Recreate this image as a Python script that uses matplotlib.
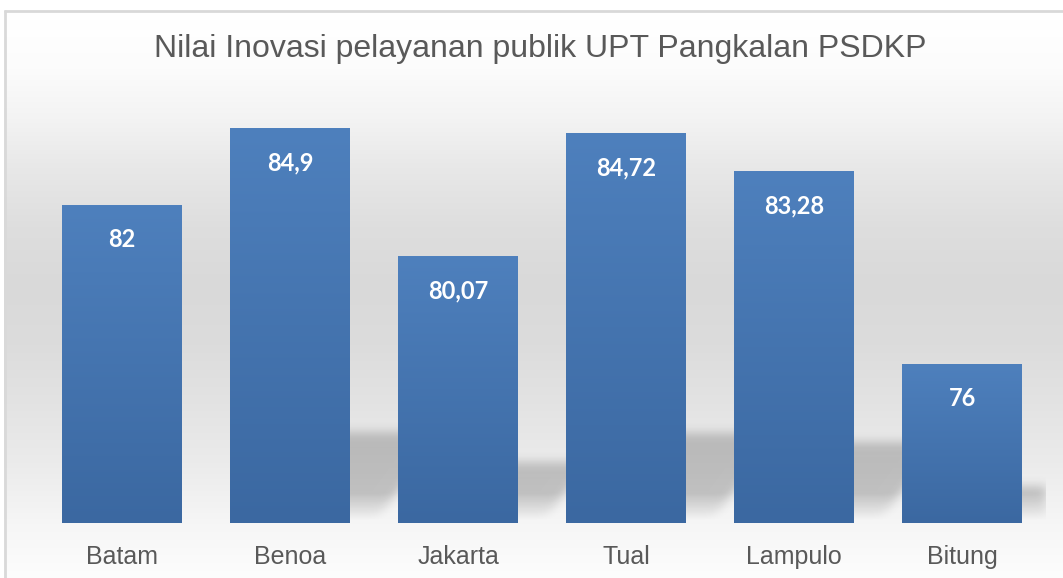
import numpy as np
import matplotlib
matplotlib.use("Agg")
import matplotlib.pyplot as plt
from matplotlib.colors import to_rgb

# ---- data ----
categories = ["Batam", "Benoa", "Jakarta", "Tual", "Lampulo", "Bitung"]
values = [82, 84.9, 80.07, 84.72, 83.28, 76]
value_labels = ["82", "84,9", "80,07", "84,72", "83,28", "76"]
title = "Nilai Inovasi pelayanan publik UPT Pangkalan PSDKP"
shadow_on = [False, True, True, True, True, True]

# ---- style ----
W, H, DPI = 1063, 578, 100
ymin, ymax = 70, 86
bar_w = 0.714
text_gray = "#595959"
bar_top = np.array(to_rgb("#4e80bd"))
bar_bot = np.array(to_rgb("#3b68a1"))

fig = plt.figure(figsize=(W / DPI, H / DPI), dpi=DPI)

# background (chart area gradient + border)
bg = fig.add_axes([0, 0, 1, 1], zorder=-10)
bg.set_xlim(0, W)
bg.set_ylim(H, 0)
bg.axis("off")
stops_y = [10, 60, 110, 160, 220, 280, 340, 400, 460, 523, 578]
stops_v = [255, 252, 243, 232, 222, 217, 220, 227, 235, 246, 253]
yy = np.arange(H)
g = np.interp(yy, stops_y, stops_v) / 255.0
grad = np.repeat(g[:, None], 3, axis=1)[:, None, :]
bg.imshow(grad, extent=[4, W, H, 10], aspect="auto", interpolation="bilinear", zorder=0)
bg.plot([4, W], [10.5, 10.5], color="#d9d9d9", lw=2, zorder=1, solid_capstyle="butt")
bg.plot([4.5, 4.5], [10, H], color="#d9d9d9", lw=2, zorder=1, solid_capstyle="butt")
bg.text(540, 49, title, ha="center", va="center", fontsize=23,
        color=text_gray, family="Liberation Sans")

# main axes
left_px, right_px, top_px, bot_px = 38, 1046, 99, 523
ax = fig.add_axes([left_px / W, (H - bot_px) / H, (right_px - left_px) / W, (bot_px - top_px) / H])
ax.patch.set_visible(False)
x = np.arange(len(categories))
ax.set_xlim(-0.5, len(categories) - 0.5)
ax.set_ylim(ymin, ymax)

ppx = (right_px - left_px) / len(categories)   # px per x unit
ppy = (bot_px - top_px) / (ymax - ymin)        # px per y unit

# shadows (computed in pixel grid, blurred)
nx, ny = right_px - left_px, bot_px - top_px
px_x = np.arange(nx) + 0.5
px_y = np.arange(ny) + 0.5  # from bottom
PX, PY = np.meshgrid(px_x, px_y)
mask = np.zeros((ny, nx))
for i, v in enumerate(values):
    if not shadow_on[i]:
        continue
    h_px = (v - ymin) * ppy
    hs = 0.23 * h_px
    xr = (x[i] + bar_w / 2 + 0.5) * ppx
    xl = (x[i] - bar_w / 2 + 0.5) * ppx
    shift = 25 + PY / 1.35
    inside = (PY <= hs) & (PX <= xr + shift) & (PX >= xl + shift)
    mask = np.maximum(mask, inside.astype(float))

def blur(a, sigma):
    r = int(3 * sigma)
    k = np.exp(-0.5 * (np.arange(-r, r + 1) / sigma) ** 2)
    k /= k.sum()
    a = np.apply_along_axis(lambda m: np.convolve(m, k, mode="same"), 1, a)
    a = np.apply_along_axis(lambda m: np.convolve(m, k, mode="same"), 0, a)
    return a

mask = blur(mask, 5)
fade = np.clip((PY - 2) / 28.0, 0, 1)
shadow = np.zeros((ny, nx, 4))
shadow[..., 3] = mask * fade * 0.2
ax.imshow(shadow, extent=[-0.5, len(categories) - 0.5, ymin, ymin + ny / ppy],
          origin="lower", aspect="auto", interpolation="bilinear", zorder=1)

# bars with gradient
bars = ax.bar(x, [v - ymin for v in values], bottom=ymin, width=bar_w,
              color="#4575b0", zorder=2, linewidth=0)
for b in bars:
    n = 256
    t = np.linspace(0, 1, n)[:, None]
    col = bar_top * (1 - t) + bar_bot * t
    img = col[:, None, :]
    im = ax.imshow(img, extent=[b.get_x(), b.get_x() + b.get_width(), b.get_y(), b.get_y() + b.get_height()],
                   aspect="auto", interpolation="bilinear", zorder=3)
    im.set_clip_path(b)

ax.set_xlim(-0.5, len(categories) - 0.5)
ax.set_ylim(ymin, ymax)

for i, v in enumerate(values):
    ax.annotate(value_labels[i], (x[i], v), xytext=(0, -25), textcoords="offset points",
                ha="center", va="center", color="white", fontsize=17, fontweight="bold",
                family="Lato", zorder=5)

ax.set_xticks(x)
ax.set_xticklabels(categories, fontsize=18, color=text_gray, family="Liberation Sans")
ax.tick_params(axis="x", length=0, pad=16)
ax.set_yticks([])
for s in ax.spines.values():
    s.set_visible(False)

fig.savefig("out.png", dpi=DPI)
